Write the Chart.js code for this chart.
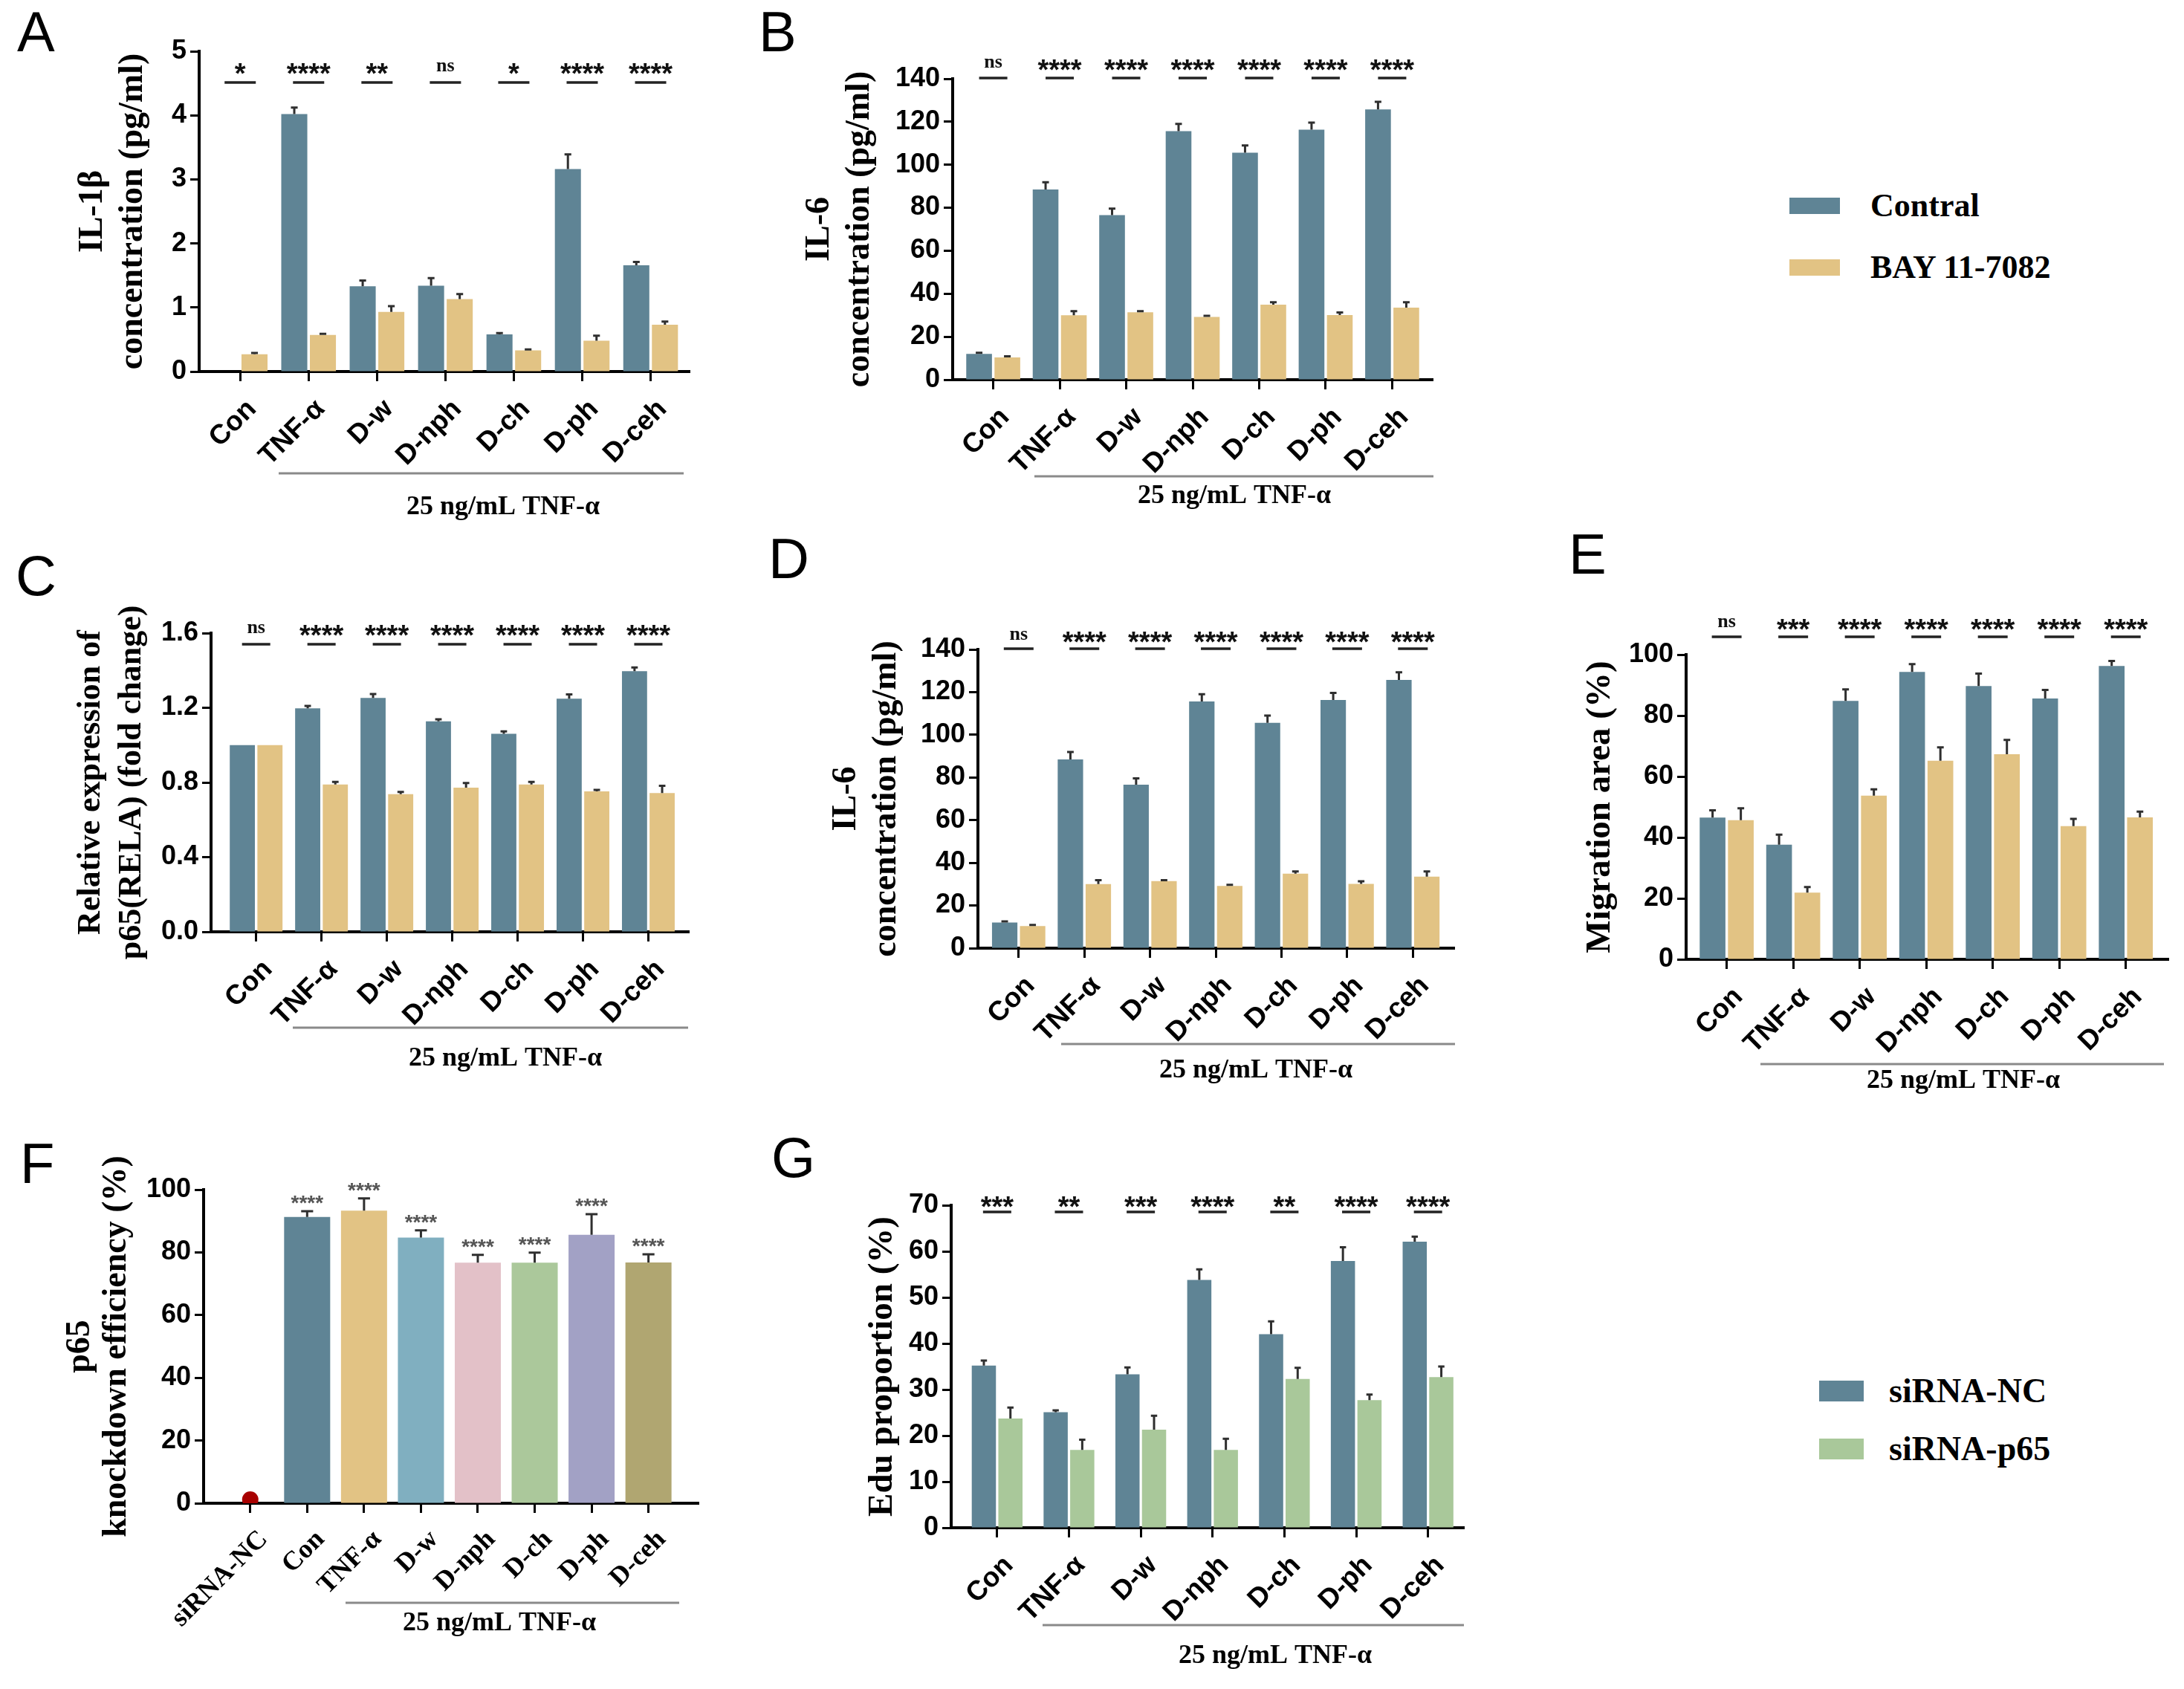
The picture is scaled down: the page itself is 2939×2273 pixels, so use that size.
<!DOCTYPE html>
<html><head><meta charset="utf-8">
<script src="https://cdn.jsdelivr.net/npm/chart.js@4.4.1/dist/chart.umd.min.js"></script>
<style>
html,body{margin:0;padding:0;background:#fff;}
body{width:2939px;height:2273px;position:relative;overflow:hidden;}
.panel{position:absolute;}
.letter{position:absolute;font-family:'Liberation Sans',Arial,sans-serif;font-size:76px;line-height:1;color:#000;}
.leg{position:absolute;font-family:'Liberation Serif','Times New Roman',serif;font-weight:bold;line-height:1;color:#000;white-space:nowrap;}
.sw{position:absolute;}
</style></head><body>
<div class="letter" style="left:23px;top:5px;">A</div>
<div class="letter" style="left:1021px;top:5px;">B</div>
<div class="letter" style="left:21px;top:737px;">C</div>
<div class="letter" style="left:1034px;top:714px;">D</div>
<div class="letter" style="left:2111px;top:708px;">E</div>
<div class="letter" style="left:27px;top:1528px;">F</div>
<div class="letter" style="left:1038px;top:1520px;">G</div>

<div class="sw" style="left:2408px;top:266px;width:68px;height:22px;background:#5f8495;"></div>
<div class="sw" style="left:2408px;top:349px;width:68px;height:22px;background:#e2c384;"></div>
<div class="leg" style="left:2517px;top:255px;font-size:44px;">Contral</div>
<div class="leg" style="left:2517px;top:338px;font-size:44px;">BAY 11-7082</div>

<div class="sw" style="left:2448px;top:1858px;width:60px;height:28px;background:#5f8495;"></div>
<div class="sw" style="left:2448px;top:1936px;width:60px;height:28px;background:#a9c89a;"></div>
<div class="leg" style="left:2542px;top:1849px;font-size:46px;">siRNA-NC</div>
<div class="leg" style="left:2542px;top:1927px;font-size:46px;">siRNA-p65</div>

<script>
// ---------------- DATA ----------------
const groups = ['Con','TNF-α','D-w','D-nph','D-ch','D-ph','D-ceh'];
const groupsF = ['siRNA-NC','Con','TNF-α','D-w','D-nph','D-ch','D-ph','D-ceh'];

// A: IL-1β
const il1bControl    = [0, 4.02, 1.33, 1.34, 0.58, 3.16, 1.66];
const il1bControlErr = [0, 4.12, 1.42, 1.46, 0.60, 3.39, 1.71];
const il1bBay        = [0.27, 0.57, 0.93, 1.13, 0.33, 0.48, 0.73];
const il1bBayErr     = [0.29, 0.59, 1.02, 1.21, 0.345, 0.56, 0.78];
const il1bSig  = ['*','****','**','ns','*','****','****'];
const il1bTicks = [0,1,2,3,4,5];

// B & D: IL-6
const il6Control    = [12.0, 88.5, 76.6, 115.6, 105.6, 116.3, 125.7];
const il6ControlErr = [12.5, 91.9, 79.6, 119.0, 109.0, 119.6, 129.3];
const il6Bay        = [10.4, 30.0, 31.4, 29.2, 34.9, 30.1, 33.5];
const il6BayErr     = [10.9, 31.9, 31.9, 29.7, 36.0, 31.3, 36.0];
const il6Sig  = ['ns','****','****','****','****','****','****'];
const il6Ticks = [0,20,40,60,80,100,120,140];

// C: p65 (RELA) fold change
const p65Control    = [1.0, 1.197, 1.253, 1.127, 1.061, 1.249, 1.396];
const p65ControlErr = [1.0, 1.210, 1.274, 1.138, 1.074, 1.272, 1.416];
const p65Bay        = [1.0, 0.789, 0.737, 0.772, 0.789, 0.752, 0.743];
const p65BayErr     = [1.0, 0.803, 0.749, 0.797, 0.803, 0.760, 0.782];
const p65Sig  = ['ns','****','****','****','****','****','****'];
const p65Ticks = [0,0.4,0.8,1.2,1.6];

// E: Migration area
const migControl    = [46.5, 37.6, 84.8, 94.3, 89.7, 85.6, 96.3];
const migControlErr = [48.9, 40.9, 88.6, 96.9, 93.8, 88.4, 97.9];
const migBay        = [45.7, 21.9, 53.7, 65.2, 67.3, 43.7, 46.6];
const migBayErr     = [49.6, 23.7, 55.8, 69.6, 72.0, 46.1, 48.5];
const migSig  = ['ns','***','****','****','****','****','****'];
const migTicks = [0,20,40,60,80,100];

// F: p65 knockdown efficiency
const kdNC       = 1.2;
const kdValues   = [91.3, 93.3, 84.7, 76.7, 76.7, 85.6, 76.8];
const kdErr      = [93.1, 97.2, 87.0, 79.2, 79.9, 92.2, 79.4];
const kdSig      = ['****','****','****','****','****','****','****'];
const kdTicks    = [0,20,40,60,80,100];

// G: Edu proportion
const eduNC     = [35.2, 25.1, 33.3, 53.8, 42.0, 57.9, 62.1];
const eduNCErr  = [36.3, 25.5, 34.8, 56.1, 44.8, 60.9, 63.2];
const eduP65    = [23.7, 16.9, 21.3, 16.9, 32.3, 27.7, 32.7];
const eduP65Err = [26.1, 19.1, 24.3, 19.3, 34.7, 28.9, 35.0];
const eduSig  = ['***','**','***','****','**','****','****'];
const eduTicks = [0,10,20,30,40,50,60,70];

// ---------------- STYLE ----------------
const BLUE = '#5f8495', TAN = '#e2c384', GREEN = '#a9c89a';
const F_COLORS = ['#5f8495','#e2c384','#80afc0','#e3c1c8','#abc89b','#a2a1c5','#b0a671'];
const SANS = '"Liberation Sans", Arial, sans-serif';
const SERIF = '"Liberation Serif", "Times New Roman", serif';
const NOTE = '25 ng/mL TNF-α';

const toXY = (arr, off = 0) => arr.map((v, i) => ({x: i + off, y: v}));

function makeAnnot(p) {
  const bx = p.box[0], by = p.box[1];
  return {
    id: 'annot' + p.id,
    afterDatasetsDraw(chart) {
      const ctx = chart.ctx, ys = chart.scales.y;
      chart.data.datasets.forEach((ds, di) => {
        if (!ds.err) return;
        const meta = chart.getDatasetMeta(di);
        meta.data.forEach((el, j) => {
          const v = ds.data[j].y, e = ds.err[j];
          const yTop = ys.getPixelForValue(e);
          if (e > v) {
            const cap = el.width * 0.26;
            ctx.save();
            ctx.strokeStyle = '#2f2f2f'; ctx.lineWidth = 3;
            ctx.beginPath();
            ctx.moveTo(el.x, el.y); ctx.lineTo(el.x, yTop);
            ctx.moveTo(el.x - cap / 2, yTop); ctx.lineTo(el.x + cap / 2, yTop);
            ctx.stroke(); ctx.restore();
          }
          if (ds.stars && ds.stars[j]) {
            ctx.save();
            ctx.fillStyle = '#555'; ctx.font = 'bold 28px ' + SANS;
            ctx.textAlign = 'center'; ctx.textBaseline = 'alphabetic';
            ctx.fillText(ds.stars[j], el.x, yTop - 18 + 0.57 * 28);
            ctx.restore();
          }
        });
      });
    },
    afterDraw(chart) {
      const ctx = chart.ctx, xs = chart.scales.x;
      if (p.sig) {
        const s = p.sig;
        s.labels.forEach((lab, i) => {
          const cx = xs.getPixelForValue(i);
          ctx.save();
          ctx.fillStyle = '#111'; ctx.textAlign = 'center'; ctx.textBaseline = 'alphabetic';
          if (lab === 'ns') {
            ctx.font = 'bold 26px ' + SERIF;
            ctx.fillText(lab, cx, s.textY - by + 0.23 * 26);
          } else {
            ctx.font = 'bold 38px ' + SANS;
            ctx.fillText(lab, cx, s.textY - by + 0.57 * 38);
          }
          ctx.strokeStyle = '#222'; ctx.lineWidth = 3.5;
          ctx.beginPath();
          ctx.moveTo(cx - s.half, s.lineY - by); ctx.lineTo(cx + s.half, s.lineY - by);
          ctx.stroke();
          ctx.restore();
        });
      }
      const br = p.bracket;
      ctx.save();
      ctx.strokeStyle = '#8a8a8a'; ctx.lineWidth = 3;
      ctx.beginPath();
      ctx.moveTo(br[0] - bx, br[2] - by); ctx.lineTo(br[1] - bx, br[2] - by);
      ctx.stroke();
      ctx.fillStyle = '#000'; ctx.font = 'bold 36px ' + SERIF;
      ctx.textAlign = 'center'; ctx.textBaseline = 'middle';
      ctx.fillText(NOTE, p.note[0] - bx, p.note[1] - by);
      ctx.restore();
    }
  };
}

function makePanel(p) {
  const [bx, by, bw, bh] = p.box;
  const [l, t, r, b] = p.plot;
  const wrap = document.createElement('div');
  wrap.className = 'panel';
  Object.assign(wrap.style, {left: bx + 'px', top: by + 'px', width: bw + 'px', height: bh + 'px'});
  const cv = document.createElement('canvas');
  cv.width = bw; cv.height = bh;
  cv.style.width = bw + 'px'; cv.style.height = bh + 'px';
  wrap.appendChild(cv);
  document.body.appendChild(wrap);
  const yW = l - bx, xH = by + bh - b;
  const cats = p.cats, yT = p.yTicks;
  const xt = p.xTickStyle || {font: {family: SANS, size: 37, weight: 'bold'}, offset: 16, pad: 16};
  new Chart(cv, {
    type: 'bar',
    data: {datasets: p.datasets},
    options: {
      responsive: false, animation: false,
      layout: {padding: {left: 0, top: t - by, right: bx + bw - r, bottom: 0}},
      plugins: {legend: {display: false}, tooltip: {enabled: false}},
      scales: {
        x: {
          type: 'linear', min: p.xRange[0], max: p.xRange[1], offset: false,
          afterBuildTicks: s => { s.ticks = cats.map((c, i) => ({value: i})); },
          afterFit: s => { s.height = xH; },
          ticks: {autoSkip: false, maxRotation: 45, minRotation: 45, color: '#000',
                  padding: xt.pad, labelOffset: xt.offset, font: xt.font,
                  callback: v => cats[v]},
          grid: {display: true, drawOnChartArea: false, drawTicks: true, tickLength: 13,
                 tickWidth: 3, tickColor: '#000', offset: false},
          border: {display: true, width: 4, color: '#000'}
        },
        y: {
          min: yT[0], max: yT[yT.length - 1],
          afterBuildTicks: s => { s.ticks = yT.map(v => ({value: v})); },
          afterFit: s => { s.width = yW; },
          ticks: {color: '#000', padding: 5, font: {family: SANS, size: 36, weight: 'bold'},
                  callback: p.yFmt || (v => String(v))},
          grid: {display: true, drawOnChartArea: false, drawTicks: true, tickLength: 12,
                 tickWidth: 3, tickColor: '#000'},
          border: {display: true, width: 4, color: '#000'},
          title: {display: true, text: p.yTitle, color: '#000',
                  font: {family: SERIF, size: p.titleSize, weight: 'bold', lineHeight: p.titleLH},
                  padding: {top: p.titlePad, bottom: 0}}
        }
      }
    },
    plugins: [makeAnnot(p)]
  });
}

function pairSets(a, ae, b, be, colA, colB, labA, labB, cp) {
  return [
    {label: labA, data: toXY(a), err: ae, backgroundColor: colA, borderWidth: 0, categoryPercentage: cp, barPercentage: 0.91},
    {label: labB, data: toXY(b), err: be, backgroundColor: colB, borderWidth: 0, categoryPercentage: cp, barPercentage: 0.91}
  ];
}

// A
makePanel({id: 'A', box: [0, 0, 1000, 720], plot: [268, 69, 928, 500], cats: groups,
  xRange: [-0.6, 6.57], yTicks: il1bTicks,
  yTitle: ['IL-1β', 'concentration (pg/ml)'], titleSize: 46, titleLH: 54 / 46, titlePad: 98,
  datasets: pairSets(il1bControl, il1bControlErr, il1bBay, il1bBayErr, BLUE, TAN, 'Contral', 'BAY 11-7082', 0.837),
  sig: {labels: il1bSig, textY: 90, lineY: 111, half: 21},
  bracket: [375, 920, 637], note: [677, 683]});

// B
makePanel({id: 'B', box: [1000, 0, 1000, 720], plot: [1282, 106, 1928, 511], cats: groups,
  xRange: [-0.61, 6.61], yTicks: il6Ticks,
  yTitle: ['IL-6', 'concentration (pg/ml)'], titleSize: 46, titleLH: 54 / 46, titlePad: 76,
  datasets: pairSets(il6Control, il6ControlErr, il6Bay, il6BayErr, BLUE, TAN, 'Contral', 'BAY 11-7082', 0.85),
  sig: {labels: il6Sig, textY: 85, lineY: 105, half: 19},
  bracket: [1392, 1929, 641], note: [1661, 668]});

// C
makePanel({id: 'C', box: [0, 720, 1000, 760], plot: [284, 852, 927, 1254], cats: groups,
  xRange: [-0.69, 6.62], yTicks: p65Ticks, yFmt: v => v.toFixed(1),
  yTitle: ['Relative expression of', 'p65(RELA) (fold change)'], titleSize: 44, titleLH: 55 / 44, titlePad: 95,
  datasets: pairSets(p65Control, p65ControlErr, p65Bay, p65BayErr, BLUE, TAN, 'Contral', 'BAY 11-7082', 0.845),
  sig: {labels: p65Sig, textY: 846, lineY: 867, half: 19},
  bracket: [394, 926, 1383], note: [680, 1425]});

// D
makePanel({id: 'D', box: [1000, 720, 1060, 760], plot: [1316, 874, 1957, 1276], cats: groups,
  xRange: [-0.62, 6.63], yTicks: il6Ticks,
  yTitle: ['IL-6', 'concentration (pg/ml)'], titleSize: 46, titleLH: 54 / 46, titlePad: 112,
  datasets: pairSets(il6Control, il6ControlErr, il6Bay, il6BayErr, BLUE, TAN, 'Contral', 'BAY 11-7082', 0.85),
  sig: {labels: il6Sig, textY: 855, lineY: 873, half: 20},
  bracket: [1428, 1958, 1405], note: [1690, 1441]});

// E
makePanel({id: 'E', box: [2060, 700, 879, 780], plot: [2269, 881, 2918, 1291], cats: groups,
  xRange: [-0.61, 6.64], yTicks: migTicks,
  yTitle: 'Migration area (%)', titleSize: 47, titleLH: 1.2, titlePad: 66,
  datasets: pairSets(migControl, migControlErr, migBay, migBayErr, BLUE, TAN, 'Contral', 'BAY 11-7082', 0.85),
  sig: {labels: migSig, textY: 838, lineY: 857, half: 20},
  bracket: [2369, 2912, 1432], note: [2642, 1455]});

// F
makePanel({id: 'F', box: [0, 1480, 1000, 793], plot: [274, 1601, 940, 2023], cats: groupsF,
  xRange: [-0.82, 7.88], yTicks: kdTicks,
  xTickStyle: {font: {family: SERIF, size: 36, weight: 'bold'}, offset: 18, pad: 15},
  yTitle: ['p65', 'knockdown efficiency (%)'], titleSize: 46, titleLH: 49 / 46, titlePad: 84,
  datasets: [
    {type: 'bar', label: 'p65 knockdown efficiency', data: toXY(kdValues, 1), err: kdErr, stars: kdSig,
     backgroundColor: F_COLORS, borderWidth: 0, categoryPercentage: 0.81, barPercentage: 1},
    {type: 'scatter', label: 'siRNA-NC', data: [{x: 0, y: kdNC}], backgroundColor: '#a80000',
     pointRadius: 11, pointBorderWidth: 0, showLine: false}
  ],
  bracket: [465, 914, 2157], note: [672, 2185]});

// G
makePanel({id: 'G', box: [1000, 1480, 1060, 793], plot: [1280, 1622, 1970, 2056], cats: groups,
  xRange: [-0.64, 6.5], yTicks: eduTicks,
  yTitle: 'Edu proportion (%)', titleSize: 47, titleLH: 1.2, titlePad: 160,
  datasets: pairSets(eduNC, eduNCErr, eduP65, eduP65Err, BLUE, GREEN, 'siRNA-NC', 'siRNA-p65', 0.74),
  sig: {labels: eduSig, textY: 1615, lineY: 1631, half: 19},
  bracket: [1403, 1970, 2187], note: [1716, 2229]});
</script>
</body></html>
